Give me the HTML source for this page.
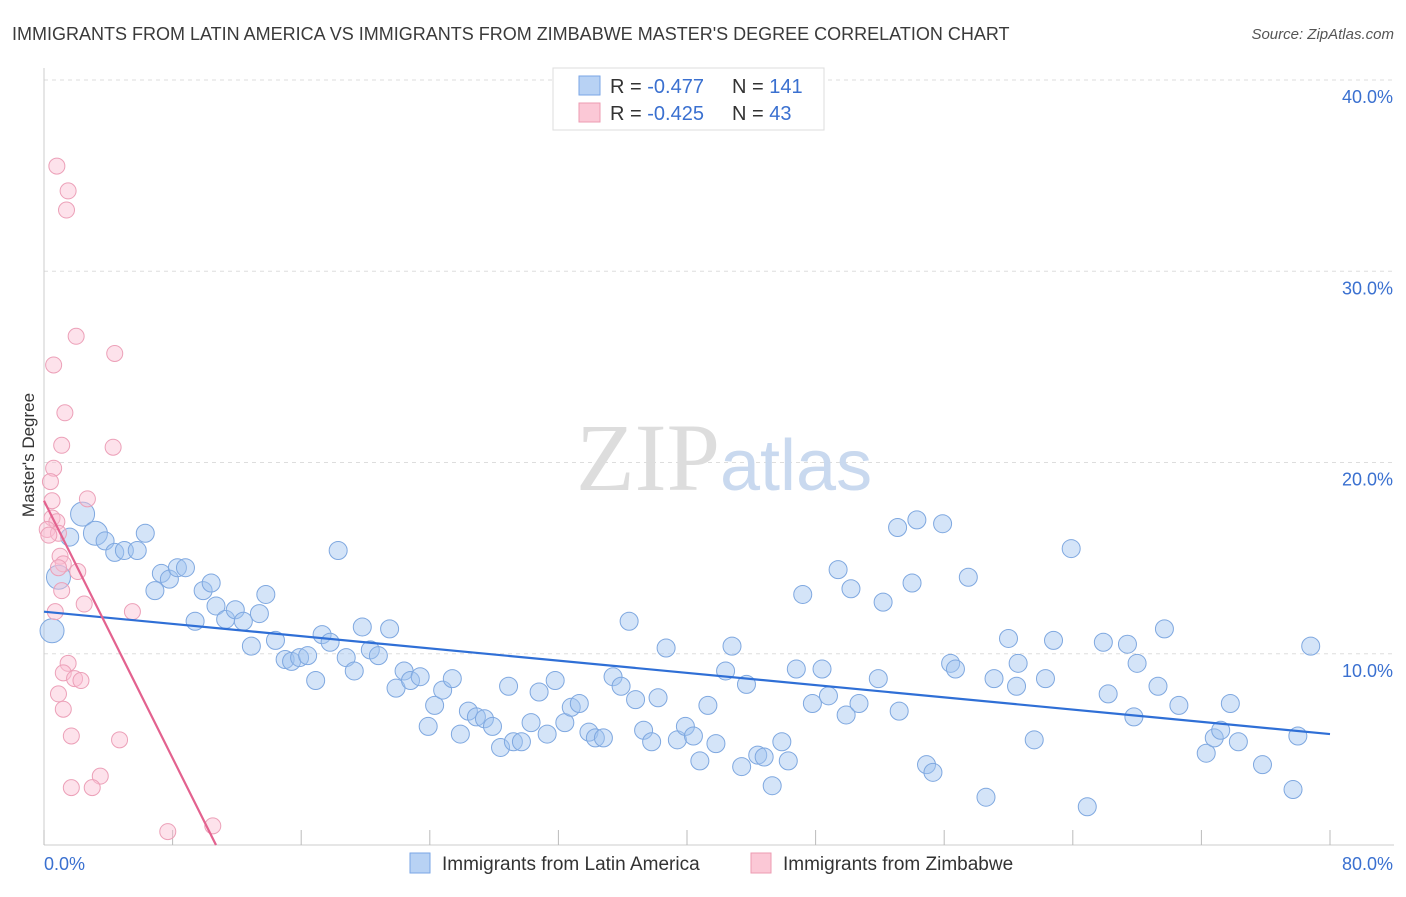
<!DOCTYPE html>
<html><head><meta charset="utf-8">
<style>
body{margin:0;background:#fff;font-family:"Liberation Sans",sans-serif;}
svg text{font-family:"Liberation Sans",sans-serif;}
</style></head>
<body>
<svg id="chart" width="1406" height="892">
<text x="12" y="40" font-size="18" fill="#3a3a3a">IMMIGRANTS FROM LATIN AMERICA VS IMMIGRANTS FROM ZIMBABWE MASTER'S DEGREE CORRELATION CHART</text>
<text x="1394" y="39" font-size="15" fill="#555" font-style="italic" text-anchor="end">Source: ZipAtlas.com</text>
<g id="grid"></g>
<text x="720" y="490" font-size="96" fill="#ddd" text-anchor="end" font-family="Liberation Serif" style="font-family:'Liberation Serif',serif">ZIP</text>
<text x="720" y="490" font-size="72" fill="#c9d9ef">atlas</text>
<text transform="translate(34,455) rotate(-90)" font-size="17" fill="#333" text-anchor="middle">Master's Degree</text>
<g id="marks"></g>
<g>
<rect x="553" y="68" width="271" height="62" fill="#fff" stroke="#ddd"/>
<rect x="579" y="76" width="21" height="19" fill="#b8d2f4" stroke="#7aa6e6"/>
<rect x="579" y="103" width="21" height="19" fill="#fbc8d6" stroke="#ec9bb2"/>
<text x="610" y="93" font-size="20" fill="#333">R = <tspan fill="#3a70d0">-0.477</tspan></text>
<text x="732" y="93" font-size="20" fill="#333">N = <tspan fill="#3a70d0">141</tspan></text>
<text x="610" y="120" font-size="20" fill="#333">R = <tspan fill="#3a70d0">-0.425</tspan></text>
<text x="732" y="120" font-size="20" fill="#333">N = <tspan fill="#3a70d0"> 43</tspan></text>
</g>
<g>
<rect x="410" y="853" width="20" height="20" fill="#b8d2f4" stroke="#7aa6e6"/>
<text x="442" y="870" font-size="19" fill="#333">Immigrants from Latin America</text>
<rect x="751" y="853" width="20" height="20" fill="#fbc8d6" stroke="#ec9bb2"/>
<text x="783" y="870" font-size="19" fill="#333">Immigrants from Zimbabwe</text>
</g>
</svg>
<script>
const xTicks=[0,8,16,24,32,40,48,56,64,72,80];
const yTicks=[10,20,30,40];
const yTickLabels=["10.0%","20.0%","30.0%","40.0%"];
const xEndLabels=["0.0%","80.0%"];
const blueX=[0.5,0.9,1.6,2.4,3.2,3.8,4.4,5.0,5.8,6.3,6.9,7.3,7.8,8.3,8.8,9.4,9.9,10.4,10.7,11.3,11.9,12.4,12.9,13.4,13.8,14.4,15.0,15.4,15.9,16.4,16.9,17.3,17.8,18.3,18.8,19.3,19.8,20.3,20.8,21.5,21.9,22.4,22.8,23.4,23.9,24.3,24.8,25.4,25.9,26.4,26.9,27.4,27.9,28.4,29.2,29.7,28.9,30.3,30.8,31.3,31.8,32.4,32.8,33.3,33.9,34.3,34.8,35.4,35.9,36.4,36.8,37.3,37.8,38.2,38.7,39.4,39.9,40.4,40.8,41.3,41.8,42.4,42.8,43.4,43.7,44.4,44.8,45.3,45.9,46.3,46.8,47.2,47.8,48.4,48.8,49.4,49.9,50.2,50.7,51.9,52.2,53.2,53.1,54.0,54.3,54.9,55.3,55.9,56.4,56.7,57.5,58.6,59.1,60.0,60.5,60.6,61.6,62.3,62.8,63.9,64.9,65.9,66.2,67.4,67.8,68.0,69.3,69.7,70.6,72.3,72.8,73.2,73.8,74.3,75.8,77.7,78.0,78.8];
const blueY=[11.2,14.0,16.1,17.3,16.3,15.9,15.3,15.4,15.4,16.3,13.3,14.2,13.9,14.5,14.5,11.7,13.3,13.7,12.5,11.8,12.3,11.7,10.4,12.1,13.1,10.7,9.7,9.6,9.8,9.9,8.6,11.0,10.6,15.4,9.8,9.1,11.4,10.2,9.9,11.3,8.2,9.1,8.6,8.8,6.2,7.3,8.1,8.7,5.8,7.0,6.7,6.6,6.2,5.1,5.4,5.4,8.3,6.4,8.0,5.8,8.6,6.4,7.2,7.4,5.9,5.6,5.6,8.8,8.3,11.7,7.6,6.0,5.4,7.7,10.3,5.5,6.2,5.7,4.4,7.3,5.3,9.1,10.4,4.1,8.4,4.7,4.6,3.1,5.4,4.4,9.2,13.1,7.4,9.2,7.8,14.4,6.8,13.4,7.4,8.7,12.7,7.0,16.6,13.7,17.0,4.2,3.8,16.8,9.5,9.2,14.0,2.5,8.7,10.8,8.3,9.5,5.5,8.7,10.7,15.5,2.0,10.6,7.9,10.5,6.7,9.5,8.3,11.3,7.3,4.8,5.6,6.0,7.4,5.4,4.2,2.9,5.7,10.4];
const pinkX=[0.8,1.5,1.4,2.0,4.4,0.6,1.3,1.1,4.3,0.6,0.4,2.7,0.5,0.5,0.8,0.2,0.9,0.3,1.0,1.2,2.1,0.9,1.1,2.5,5.5,0.7,1.5,1.2,1.9,2.3,0.9,1.2,1.7,4.7,3.5,3.0,1.7,7.7,10.5];
const pinkY=[35.5,34.2,33.2,26.6,25.7,25.1,22.6,20.9,20.8,19.7,19.0,18.1,18.0,17.1,16.9,16.5,16.3,16.2,15.1,14.7,14.3,14.5,13.3,12.6,12.2,12.2,9.5,9.0,8.7,8.6,7.9,7.1,5.7,5.5,3.6,3.0,3.0,0.7,1.0];
const blueTrend=[12.2,5.8];
const pinkTrend=[18.0,10.7];
const NS="http://www.w3.org/2000/svg";
const xs=v=>44+v*(1330-44)/80;
const ys=v=>845-v*(845-80)/40;
function mk(tag,attrs,parent){const e=document.createElementNS(NS,tag);for(const k in attrs)e.setAttribute(k,attrs[k]);parent.appendChild(e);return e;}
const grid=document.getElementById('grid');
const marks=document.getElementById('marks');
yTicks.forEach((t,i)=>{
 const l=mk('line',{x1:44,x2:1394,y1:ys(t),y2:ys(t),stroke:'#ddd','stroke-dasharray':'4,4'},grid);
 
 
 const tx=mk('text',{x:1393,y:ys(t)+23,'font-size':18,fill:'#3a70d0','text-anchor':'end'},grid);
 tx.textContent=yTickLabels[i];
 
 
});
const ax=mk('line',{x1:44,x2:1394,y1:845,y2:845,stroke:'#ccc'},grid);


const ay=mk('line',{x1:44,x2:44,y1:68,y2:845,stroke:'#ccc'},grid);


xTicks.forEach(t=>{
 const l=mk('line',{x1:xs(t),x2:xs(t),y1:830,y2:845,stroke:'#bbb'},grid);
 
 
});
const xl0=mk('text',{x:44,y:870,'font-size':18,fill:'#3a70d0'},grid);xl0.textContent=xEndLabels[0];


const xl1=mk('text',{x:1393,y:870,'font-size':18,fill:'#3a70d0','text-anchor':'end'},grid);xl1.textContent=xEndLabels[1];


const big=new Set([0,1,3,4]);
blueX.forEach((x,i)=>{
 const c=mk('circle',{cx:xs(x),cy:ys(blueY[i]),r:big.has(i)?12:9,fill:'rgba(160,195,240,0.45)',stroke:'#7fa8e0','stroke-width':1},marks);
 
 
});
pinkX.forEach((x,i)=>{
 const c=mk('circle',{cx:xs(x),cy:ys(pinkY[i]),r:8,fill:'rgba(250,190,210,0.45)',stroke:'#eca0b8','stroke-width':1},marks);
 
 
});
const bl=mk('line',{x1:xs(0),y1:ys(blueTrend[0]),x2:xs(80),y2:ys(blueTrend[1]),stroke:'#2f6fd6','stroke-width':2.2},marks);


const pl=mk('line',{x1:xs(0),y1:ys(pinkTrend[0]),x2:xs(pinkTrend[1]),y2:ys(0),stroke:'#e3628f','stroke-width':2.2},marks);


</script>
</body></html>
